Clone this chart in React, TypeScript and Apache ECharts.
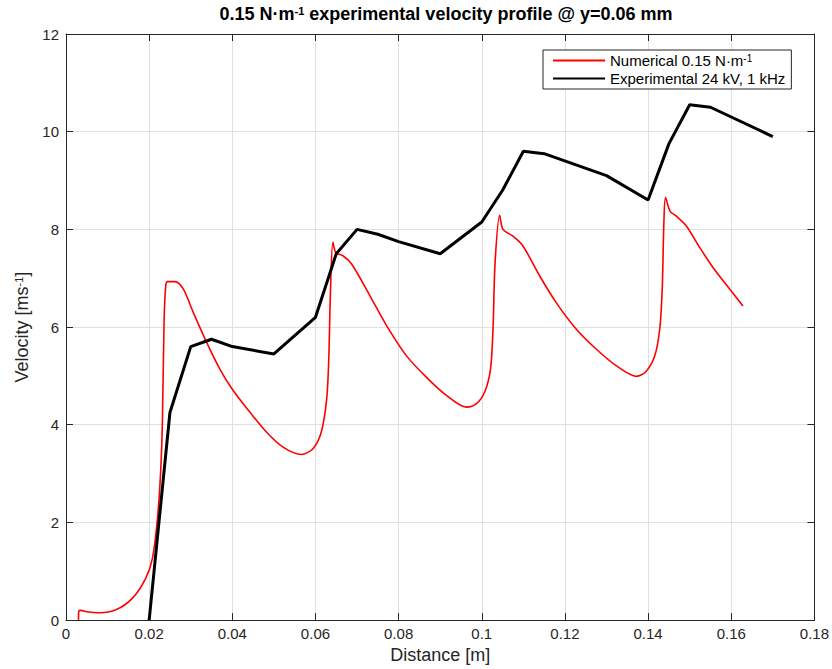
import React, { useEffect, useRef } from "react";
import * as echarts from "echarts";

const FONT = "'Liberation Sans', Arial, Helvetica, sans-serif";

const xTicks = [0, 0.02, 0.04, 0.06, 0.08, 0.1, 0.12, 0.14, 0.16, 0.18];
const yTicks = [0, 2, 4, 6, 8, 10, 12];

const numericalX = [
  0.003, 0.0031, 0.0035, 0.005, 0.008, 0.012, 0.016, 0.0192, 0.0208, 0.022,
  0.0228, 0.0232, 0.0236, 0.024, 0.0244, 0.0262, 0.0282, 0.0306, 0.0338, 0.037,
  0.0402, 0.0442, 0.0482, 0.0522, 0.0566, 0.0594, 0.0614, 0.0627, 0.0632, 0.0636,
  0.0642, 0.0649, 0.0666, 0.0687, 0.0731, 0.0771, 0.0819, 0.0867, 0.0915, 0.0963,
  0.0987, 0.1007, 0.1021, 0.1027, 0.1032, 0.1043, 0.1051, 0.1075, 0.1099, 0.1139,
  0.1179, 0.1227, 0.1275, 0.1323, 0.1372, 0.1395, 0.1416, 0.1428, 0.1434, 0.1438,
  0.1442, 0.1453, 0.1468, 0.1492, 0.1524, 0.1556, 0.1596, 0.1628,
];
const numericalY = [
  0, 0.19, 0.2, 0.17, 0.15, 0.21, 0.45, 0.86, 1.27, 2.08,
  3.1, 4.12, 6.16, 6.85, 6.93, 6.93, 6.78, 6.3, 5.69, 5.14,
  4.7, 4.26, 3.85, 3.54, 3.39, 3.51, 3.85, 4.53, 5.35, 6.71,
  7.74, 7.52, 7.46, 7.29, 6.64, 6.03, 5.41, 4.97, 4.6, 4.36,
  4.43, 4.67, 5.14, 5.96, 7.32, 8.29, 8.0, 7.86, 7.66, 7.05,
  6.5, 5.96, 5.55, 5.21, 4.99, 5.09, 5.41, 5.96, 6.78, 8.14,
  8.65, 8.37, 8.27, 8.07, 7.63, 7.22, 6.78, 6.43,
];

const experimentalX = [
  0.02, 0.025, 0.03, 0.035, 0.04, 0.05, 0.06, 0.065, 0.07, 0.075, 0.08,
  0.09, 0.1, 0.105, 0.11, 0.115, 0.13, 0.14, 0.145, 0.15, 0.155, 0.17,
];
const experimentalY = [
  0, 4.25, 5.6, 5.75, 5.6, 5.45, 6.2, 7.5, 8.0, 7.9, 7.75,
  7.5, 8.15, 8.8, 9.6, 9.55, 9.1, 8.6, 9.75, 10.55, 10.5, 9.9,
];

const NUM_NAME = "Numerical 0.15 N·m-1";
const EXP_NAME = "Experimental 24 kV, 1 kHz";

export default function App() {
  const ref = useRef<HTMLDivElement>(null);
  useEffect(() => {
    document.body.style.margin = "0";
    const chart = echarts.init(ref.current!, null, { renderer: "svg" });
    const axisColor = "#262626";
    const gridColor = "#e0e0e0";
    const fmt = (v: number) => String(+v.toFixed(2));
    const xBase = {
      type: "value",
      min: xTicks[0],
      max: xTicks[xTicks.length - 1],
      interval: 0.02,
      axisLine: { show: true, onZero: false, lineStyle: { color: axisColor, width: 1 } },
      axisTick: { show: true, inside: true, length: 7, lineStyle: { color: axisColor } },
    };
    const yBase = {
      type: "value",
      min: yTicks[0],
      max: yTicks[yTicks.length - 1],
      interval: 2,
      axisLine: { show: true, onZero: false, lineStyle: { color: axisColor, width: 1 } },
      axisTick: { show: true, inside: true, length: 7, lineStyle: { color: axisColor } },
    };
    chart.setOption({
      animation: false,
      backgroundColor: "#fff",
      title: {
        text: "0.15 N·m{sup|-1} experimental velocity profile @ y=0.06 mm",
        left: 441,
        textAlign: "center",
        top: 0,
        textStyle: {
          fontFamily: FONT,
          fontSize: 18,
          fontWeight: "bold",
          color: "#000",
          rich: {
            sup: { fontFamily: FONT, fontSize: 11, fontWeight: "bold", verticalAlign: "top", color: "#000" },
          },
        },
      },
      legend: {
        orient: "vertical",
        left: 543,
        top: 50,
        itemWidth: 52,
        itemHeight: 14,
        itemGap: 3,
        padding: [3, 6, 3, 9],
        borderColor: axisColor,
        borderWidth: 1,
        backgroundColor: "#fff",
        data: [NUM_NAME, EXP_NAME],
        itemStyle: { opacity: 0 },
        formatter: (name: string) =>
          name === NUM_NAME ? "Numerical 0.15 N·m{sup|-1}" : name,
        textStyle: {
          fontFamily: FONT,
          fontSize: 15,
          color: "#000",
          rich: { sup: { fontFamily: FONT, fontSize: 10, verticalAlign: "top", color: "#000" } },
        },
      },
      grid: { left: 66, right: 17, top: 34, bottom: 47, containLabel: false },
      xAxis: [
        {
          ...xBase,
          position: "bottom",
          name: "Distance [m]",
          nameLocation: "middle",
          nameGap: 24,
          nameTextStyle: { fontFamily: FONT, fontSize: 18, color: axisColor },
          axisLabel: { fontFamily: FONT, fontSize: 15, color: axisColor, margin: 6, formatter: fmt },
          splitLine: { show: true, lineStyle: { color: gridColor, width: 1 } },
        },
        {
          ...xBase,
          position: "top",
          axisLabel: { show: false },
          splitLine: { show: false },
        },
      ],
      yAxis: [
        {
          ...yBase,
          position: "left",
          name: "Velocity [ms{sup|-1}]",
          nameLocation: "middle",
          nameGap: 34,
          nameTextStyle: {
            fontFamily: FONT,
            fontSize: 18,
            color: axisColor,
            rich: { sup: { fontFamily: FONT, fontSize: 11, verticalAlign: "top", color: axisColor } },
          },
          axisLabel: { fontFamily: FONT, fontSize: 15, color: axisColor, margin: 7 },
          splitLine: { show: true, lineStyle: { color: gridColor, width: 1 } },
        },
        {
          ...yBase,
          position: "right",
          axisLabel: { show: false },
          splitLine: { show: false },
        },
      ],
      series: [
        {
          name: NUM_NAME,
          type: "line",
          xAxisIndex: 0,
          yAxisIndex: 0,
          data: numericalX.map((x, i) => [x, numericalY[i]]),
          symbol: "none",
          smooth: 0.3,
          lineStyle: { color: "#ff0000", width: 1.6 },
          itemStyle: { color: "#ff0000" },
          z: 3,
        },
        {
          name: EXP_NAME,
          type: "line",
          xAxisIndex: 0,
          yAxisIndex: 0,
          data: experimentalX.map((x, i) => [x, experimentalY[i]]),
          symbol: "none",
          lineStyle: { color: "#000000", width: 3 },
          itemStyle: { color: "#000000" },
          z: 4,
        },
      ],
    });
    return () => chart.dispose();
  }, []);
  return <div ref={ref} style={{ width: 832, height: 669 }} />;
}
